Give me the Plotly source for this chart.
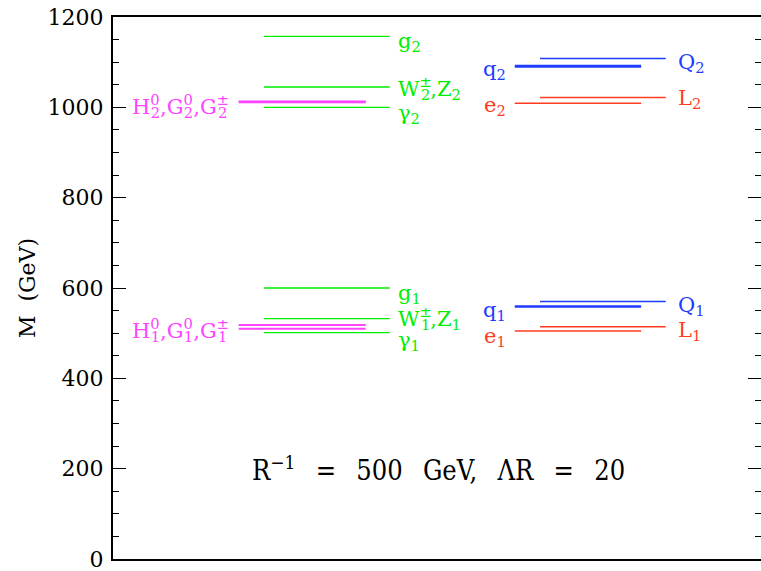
import plotly.graph_objects as go

# ---- data (masses in GeV) ----
SP = "<sup><span style='letter-spacing:-{w}px'>{c}</span></sup>"
def stk(base, sup, sub, w):
    return base + SP.format(w=w, c=sup) + "<sub>" + sub + "</sub>"

gauge_names = ["g<sub>2</sub>", stk("W", "±", "2", 11) + ",Z<sub>2</sub>", "γ<sub>2</sub>",
               "g<sub>1</sub>", stk("W", "±", "1", 11) + ",Z<sub>1</sub>", "γ<sub>1</sub>"]
gauge_mass = [1157, 1045, 1000, 600, 532, 501]

higgs_names = [stk("H", "0", "2", 9) + "," + stk("G", "0", "2", 9) + "," + stk("G", "±", "2", 11),
               stk("H", "0", "1", 9) + "," + stk("G", "0", "1", 9) + "," + stk("G", "±", "1", 11)]
higgs_mass_a = [1013, 518]
higgs_mass_b = [1011, 510]

singlet_names = ["q<sub>2</sub>", "e<sub>2</sub>", "q<sub>1</sub>", "e<sub>1</sub>"]
singlet_mass = [1091, 1009, 559, 505]

doublet_names = ["Q<sub>2</sub>", "L<sub>2</sub>", "Q<sub>1</sub>", "L<sub>1</sub>"]
doublet_mass = [1108, 1022, 570, 514]

y_ticks = [0, 200, 400, 600, 800, 1000, 1200]
G = "\u00a0\u00a0\u2009"
caption = "R<sup>−1</sup>" + G + "=" + G + "500" + G + "GeV," + G + "ΛR" + G + "=" + G + "20"

# ---- styling / layout ----
GREEN = "#00ee00"
MAGENTA = "#ff44ff"
BLUE = "#1e3cff"
RED = "#ff3c1e"
CAPFONT = "DejaVu Serif Condensed, DejaVu Serif, serif"
FONT = "DejaVu Serif, serif"

# column extents in x (arbitrary units, range 0..10)
col_higgs = (1.94, 3.90)
col_gauge = (2.33, 4.27)
col_single = (6.20, 8.15)
col_double = (6.59, 8.53)

fig = go.Figure()

def level(x0x1, m, color, width):
    fig.add_trace(go.Scatter(x=[x0x1[0], x0x1[1]], y=[m, m], mode="lines",
                             line=dict(color=color, width=width),
                             showlegend=False, hoverinfo="skip"))

annots = []

def label(x, y, text, color, anchor, xshift, yshift, size=21):
    annots.append(dict(x=x, y=y, text=text, showarrow=False, xanchor=anchor,
                       yanchor="middle", xshift=xshift, yshift=yshift,
                       font=dict(family=FONT, size=size, color=color)))

gauge_yshift = [-6, -1, -7, -6, 1, -8]
for n, m, s in zip(gauge_names, gauge_mass, gauge_yshift):
    level(col_gauge, m, GREEN, 1.3)
    label(col_gauge[1], m, n, GREEN, "left", 6, s)

for n, a, b, s in zip(higgs_names, higgs_mass_a, higgs_mass_b, [-4, -3]):
    level(col_higgs, a, MAGENTA, 2)
    level(col_higgs, b, MAGENTA, 2)
    label(col_higgs[0], (a + b) / 2, n, MAGENTA, "right", -9, s)

single_w = [3, 1.5, 2.5, 1.5]
single_col = [BLUE, RED, BLUE, RED]
single_shift = [-4, -3, -4, -6]
for n, m, w, c, s in zip(singlet_names, singlet_mass, single_w, single_col, single_shift):
    level(col_single, m, c, w)
    label(col_single[0], m, n, c, "right", -7, s)

double_col = [BLUE, RED, BLUE, RED]
double_shift = [-4, -2, -4, -4]
for n, m, c, s in zip(doublet_names, doublet_mass, double_col, double_shift):
    level(col_double, m, c, 1.5)
    label(col_double[1], m, n, c, "left", 10, s)

annots.append(dict(x=0.503, xref="paper", y=200, text=caption, showarrow=False,
                   xanchor="center", yanchor="middle",
                   font=dict(family=CAPFONT, size=27, color="black")))

# invisible trace on y2 so right-side ticks render
fig.add_trace(go.Scatter(x=[0], y=[0], yaxis="y2", mode="markers",
                         marker=dict(opacity=0), showlegend=False, hoverinfo="skip"))

fig.update_layout(
    width=761, height=571,
    margin=dict(l=113, r=0, t=17, b=12, autoexpand=False),
    plot_bgcolor="white", paper_bgcolor="white",
    annotations=annots,
    xaxis=dict(range=[0, 10], showgrid=False, zeroline=False, showticklabels=False,
               ticks="", showline=True, linecolor="black", linewidth=2, mirror=True,
               fixedrange=True),
    yaxis=dict(range=[0, 1200], tickvals=y_ticks, showgrid=False, zeroline=False,
               ticks="inside", ticklen=13, tickwidth=1.3, tickcolor="black",
               minor=dict(dtick=50, ticks="inside", ticklen=6, tickwidth=1.2, tickcolor="black"),
               showline=True, linecolor="black", linewidth=2,
               ticklabeloverflow="allow", ticklabelstandoff=3,
               tickfont=dict(family=FONT, size=22, color="black"),
               title=dict(text="M\u00a0\u00a0(GeV)", font=dict(family=FONT, size=22, color="black"),
                          standoff=6)),
    yaxis2=dict(range=[0, 1200], overlaying="y", side="right", tickvals=y_ticks,
                showticklabels=False, showgrid=False, zeroline=False, showline=False,
                ticks="inside", ticklen=13, tickwidth=1.3, tickcolor="black",
                minor=dict(dtick=50, ticks="inside", ticklen=6, tickwidth=1.2, tickcolor="black")),
)

fig.write_html("out.html", config={"displayModeBar": False},
               post_script="document.body.style.margin='0';document.body.style.overflow='hidden';")
